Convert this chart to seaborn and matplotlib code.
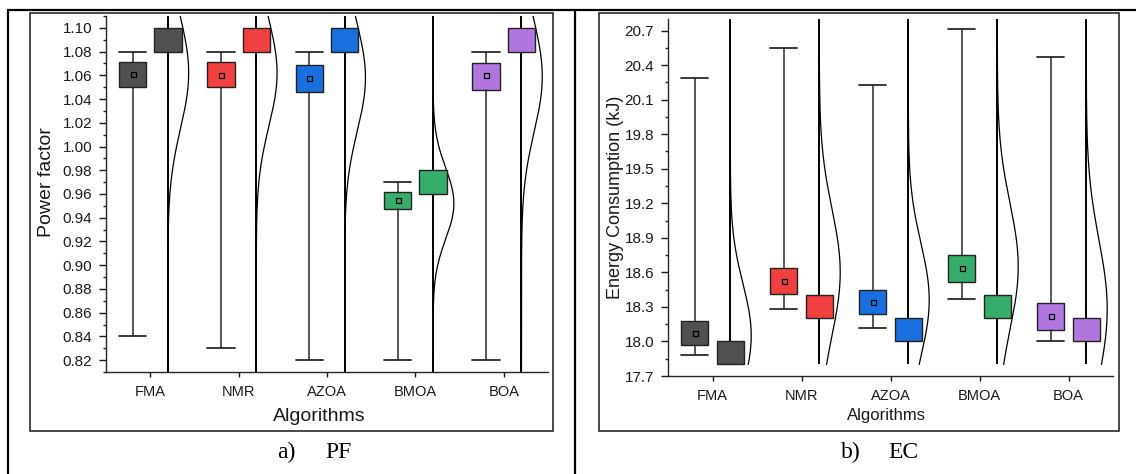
import numpy as np
import matplotlib
matplotlib.use("Agg")
import matplotlib.pyplot as plt
from matplotlib.lines import Line2D
from matplotlib.patches import Rectangle
from matplotlib.ticker import MultipleLocator, FormatStrFormatter
import seaborn as sns

# ---------------- data ----------------
algorithms = ["FMA", "NMR", "AZOA", "BMOA", "BOA"]
colors = ["#515151", "#F14040", "#1A6FDF", "#37AD6B", "#B177DE"]

# Power factor: box with whiskers
pf_whislo = [0.84, 0.83, 0.82, 0.82, 0.82]
pf_q1 = [1.050, 1.050, 1.046, 0.947, 1.048]
pf_mean = [1.061, 1.060, 1.058, 0.955, 1.060]
pf_q3 = [1.071, 1.071, 1.069, 0.962, 1.070]
pf_whishi = [1.08, 1.08, 1.08, 0.970, 1.08]
# Power factor: distribution box, data span, normal fit
pf_dist_lo = [1.08, 1.08, 1.08, 0.96, 1.08]
pf_dist_hi = [1.10, 1.10, 1.10, 0.98, 1.10]
pf_data_lo = [0.80, 0.80, 0.80, 0.80, 0.80]
pf_data_hi = [1.12, 1.12, 1.12, 1.12, 1.12]
pf_fit_mean = [1.062, 1.062, 1.058, 0.952, 1.059]
pf_fit_sd = [0.047, 0.045, 0.045, 0.030, 0.047]

# Energy consumption: box with whiskers
ec_whislo = [17.88, 18.28, 18.12, 18.37, 18.00]
ec_q1 = [17.97, 18.41, 18.24, 18.52, 18.10]
ec_mean = [18.075, 18.525, 18.34, 18.64, 18.225]
ec_q3 = [18.18, 18.64, 18.45, 18.755, 18.335]
ec_whishi = [20.29, 20.55, 20.23, 20.71, 20.47]
# Energy consumption: distribution box, data span, normal fit
ec_dist_lo = [17.8, 18.2, 18.0, 18.2, 18.0]
ec_dist_hi = [18.0, 18.4, 18.2, 18.4, 18.2]
ec_data_lo = [17.8, 17.8, 17.8, 17.8, 17.8]
ec_data_hi = [20.9, 20.9, 20.9, 20.9, 20.9]
ec_fit_mean = [18.05, 18.60, 18.36, 18.65, 18.28]
ec_fit_sd = [0.45, 0.55, 0.49, 0.55, 0.60]

# ---------------- style ----------------
sns.set_style("ticks")
plt.rcParams["font.family"] = ["Liberation Sans", "DejaVu Sans"]
plt.rcParams["axes.linewidth"] = 1.0

W, H = 1136, 474
fig = plt.figure(figsize=(W / 100, H / 100), dpi=100)


def panel(ax, whislo, q1, mean, q3, whishi, dlo, dhi, lo, hi, fm, fsd,
          ylim, major, fmt, ylabel, ylab_xy, xlab_xy, ylab_size, xlab_size):
    pos = np.arange(len(algorithms))
    stats = []
    for i in range(len(algorithms)):
        stats.append(dict(whislo=whislo[i], q1=q1[i], med=q1[i], q3=q3[i],
                          whishi=whishi[i], mean=mean[i], fliers=[],
                          label=algorithms[i]))
    bp = ax.bxp(stats, positions=pos - 0.2, widths=0.31, capwidths=0.31,
                patch_artist=True, showmeans=True, showfliers=False,
                boxprops=dict(edgecolor="#222222", linewidth=1.0),
                whiskerprops=dict(color="#2a2a2a", linewidth=1.1),
                capprops=dict(color="#2a2a2a", linewidth=1.3),
                medianprops=dict(linewidth=0),
                meanprops=dict(marker="s", markersize=3.6,
                               markerfacecolor="none",
                               markeredgecolor="black",
                               markeredgewidth=0.9),
                manage_ticks=False, zorder=3)
    for patch, c in zip(bp["boxes"], colors):
        patch.set_facecolor(c)

    # data overlap line
    ax.vlines(pos + 0.2, lo, hi, color="black", linewidth=1.4, zorder=2)
    # distribution box
    ax.bar(pos + 0.2, np.array(dhi) - np.array(dlo), bottom=dlo, width=0.31,
           color=colors, edgecolor="#222222", linewidth=1.0, zorder=3)
    # normal curves
    for i in range(len(algorithms)):
        yy = np.linspace(lo[i], hi[i], 400)
        xx = pos[i] + 0.2 + 0.235 * np.exp(-0.5 * ((yy - fm[i]) / fsd[i]) ** 2)
        ax.plot(xx, yy, color="black", linewidth=0.9, zorder=2)

    ax.set_xlim(-0.5, 4.5)
    ax.set_ylim(*ylim)
    ax.set_xticks(pos)
    ax.set_xticklabels(algorithms)
    ax.yaxis.set_major_locator(MultipleLocator(major))
    ax.yaxis.set_minor_locator(MultipleLocator(major / 2))
    ax.yaxis.set_major_formatter(FormatStrFormatter(fmt))
    ax.tick_params(axis="y", which="major", direction="out", length=5,
                   width=1.0, pad=5, labelsize=11, colors="#1a1a1a")
    ax.tick_params(axis="y", which="minor", direction="out", length=2.5,
                   width=1.0)
    ax.tick_params(axis="x", which="major", direction="out", length=3.5,
                   width=1.0, pad=6, labelsize=10.5, colors="#1a1a1a")
    sns.despine(ax=ax)
    ax.set_ylabel(ylabel, fontsize=ylab_size, color="#1a1a1a")
    ax.set_xlabel("Algorithms", fontsize=xlab_size, color="#1a1a1a")
    ax.yaxis.set_label_coords(*ylab_xy)
    ax.xaxis.set_label_coords(*xlab_xy)


ax1 = fig.add_axes([106 / W, 1 - 372 / H, (548 - 106) / W, (372 - 16) / H])
panel(ax1, pf_whislo, pf_q1, pf_mean, pf_q3, pf_whishi, pf_dist_lo, pf_dist_hi,
      pf_data_lo, pf_data_hi, pf_fit_mean, pf_fit_sd,
      (0.81, 1.11), 0.02, "%.2f", "Power factor", (-0.115, 0.534), (0.482, -0.1),
      14, 14)

ax2 = fig.add_axes([668 / W, 1 - 376 / H, (1113 - 668) / W, (376 - 19) / H])
panel(ax2, ec_whislo, ec_q1, ec_mean, ec_q3, ec_whishi, ec_dist_lo, ec_dist_hi,
      ec_data_lo, ec_data_hi, ec_fit_mean, ec_fit_sd,
      (17.7, 20.8), 0.3, "%.1f", "Energy Consumption (kJ)", (-0.1, 0.5),
      (0.49, -0.09), 13, 12)


# ---------------- figure decorations ----------------
def fline(x0, y0, x1, y1, lw, color="black"):
    fig.add_artist(Line2D([x0 / W, x1 / W], [1 - y0 / H, 1 - y1 / H],
                          transform=fig.transFigure, color=color, linewidth=lw))


fline(8, 10, W, 10, 1.6)
fline(8, 10, 8, H, 1.6)
fline(575, 10, 575, H, 1.6)
for (x0, x1) in [(30, 553), (599, 1119)]:
    fig.add_artist(Rectangle((x0 / W, 1 - 431 / H), (x1 - x0) / W, (431 - 13) / H,
                             transform=fig.transFigure, fill=False,
                             edgecolor="#2a2a2a", linewidth=1.2))

cap_kw = dict(family=["Liberation Serif", "DejaVu Serif"], fontsize=17,
              va="center", ha="left", color="black")
fig.text(277 / W, 1 - 452 / H, "a)", **cap_kw)
fig.text(325 / W, 1 - 452 / H, "PF", **cap_kw)
fig.text(841 / W, 1 - 452 / H, "b)", **cap_kw)
fig.text(888 / W, 1 - 452 / H, "EC", **cap_kw)

fig.savefig("out.png", dpi=100)
